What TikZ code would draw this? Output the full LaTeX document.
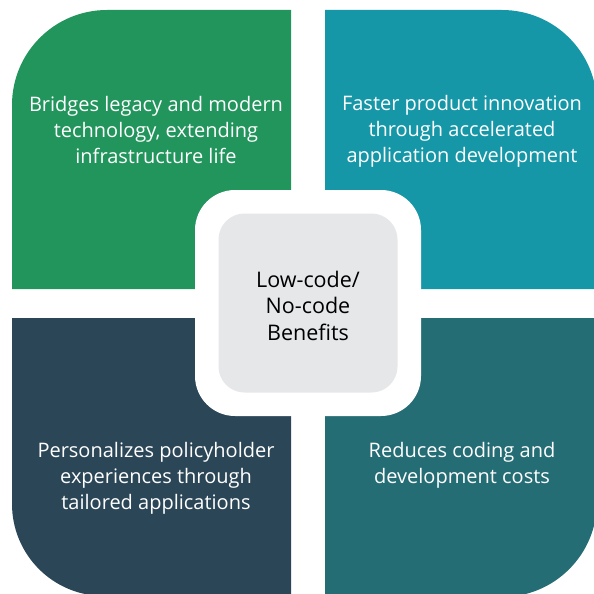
\documentclass[tikz,border=0pt]{standalone}
\usepackage{fontspec}
\setmainfont{Open Sans}
\usetikzlibrary{positioning}
\definecolor{leafgreen}{HTML}{21955B}
\definecolor{oceanteal}{HTML}{1597A8}
\definecolor{slateblue}{HTML}{2B4657}
\definecolor{deepteal}{HTML}{256D75}
\definecolor{hubgray}{HTML}{E6E7E9}
\tikzset{
  benefit/.style={text=white,align=center,font=\fontsize{20}{26}\selectfont},
  hubtext/.style={text=black,align=center,font=\fontsize{21.5}{26.5}\selectfont}
}
\begin{document}
\begin{tikzpicture}[x=1pt,y=1pt]
    \useasboundingbox (0,0) rectangle (594,-594);
    \clip (0,0) rectangle (594,-594);
    % four quadrants
    \fill[leafgreen] (291,-289) -- (12,-289) -- (12,-105) arc[start angle=180,end angle=90,radius=95] -- (291,-10) -- cycle;
    \fill[oceanteal] (325,-289) -- (325,-10) -- (502,-10) arc[start angle=90,end angle=0,radius=95] -- (597,-289) -- cycle;
    \fill[slateblue] (291,-318) -- (12,-318) -- (12,-504) arc[start angle=180,end angle=270,radius=92] -- (291,-596) -- cycle;
    \fill[deepteal] (325,-318) -- (597,-318) -- (597,-502) arc[start angle=0,end angle=-90,radius=95] -- (325,-597) -- cycle;
    % centre
    \node (frame) [fill=white,rounded corners=40pt,minimum width=226pt,minimum height=226pt,inner sep=0pt] at (308,-303) {};
    \node (hub) [fill=hubgray,rounded corners=26pt,minimum width=179pt,minimum height=179pt,inner sep=0pt] at (frame.center) {};
    \node (hubtxt) [hubtext] at ([yshift=-2.5pt]hub.center) {Low-code/\\No-code\\Benefits};
    % benefit texts
    \node (legacy) [benefit] at (156,-130) {Bridges legacy and modern\\technology, extending\\infrastructure life};
    \node (faster) [benefit] at (462,-131) {Faster product innovation\\through accelerated\\application development};
    \node (personal) [benefit] at (156,-478) {Personalizes policyholder\\experiences through\\tailored applications};
    \node (costs) [benefit] at (462,-465) {Reduces coding and\\development costs};
\end{tikzpicture}
\end{document}
